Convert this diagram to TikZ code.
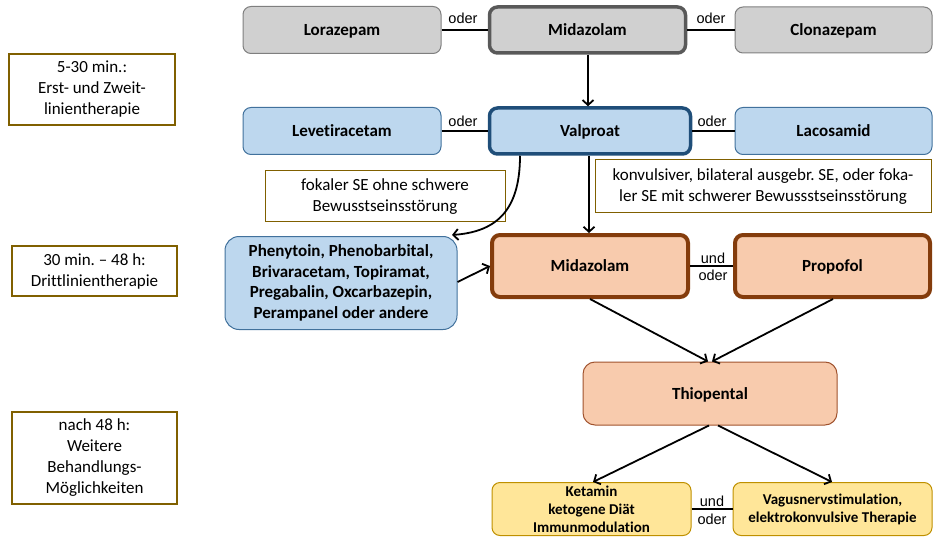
\documentclass[tikz,border=0pt]{standalone}
\usepackage{fontspec}
\setmainfont{Carlito}[Ligatures=NoCommon]
\newfontfamily\arialf{Liberation Sans}
\usetikzlibrary{arrows.meta}
\frenchspacing
\definecolor{grayfill}{HTML}{D0D0D0}
\definecolor{grayline}{HTML}{7F7F7F}
\definecolor{graydark}{HTML}{595959}
\definecolor{bluefill}{HTML}{BDD7EE}
\definecolor{blueline}{HTML}{41719C}
\definecolor{bluedark}{HTML}{1F4E79}
\definecolor{salfill}{HTML}{F8CBAD}
\definecolor{salline}{HTML}{A0522D}
\definecolor{saldark}{HTML}{843C0C}
\definecolor{yelfill}{HTML}{FFE699}
\definecolor{yelline}{HTML}{BF9000}
\definecolor{goldline}{HTML}{806000}
\tikzset{
  box/.style={rounded corners=8pt, align=center, inner sep=2pt, font=\fontsize{17}{20.5}\selectfont\bfseries},
  oneline/.style={text depth=0pt},
  graybox/.style={box, fill=grayfill, draw=grayline, line width=1pt},
  graybold/.style={box, fill=grayfill, draw=graydark, line width=3.5pt},
  bluebox/.style={box, fill=bluefill, draw=blueline, line width=1pt},
  bluebold/.style={box, fill=bluefill, draw=bluedark, line width=3.5pt},
  salbold/.style={box, fill=salfill, draw=saldark, line width=4pt},
  salbox/.style={box, fill=salfill, draw=salline, line width=1pt, rounded corners=12pt},
  yelbox/.style={box, fill=yelfill, draw=yelline, line width=1pt, font=\fontsize{15}{18}\selectfont\bfseries},
  timebox/.style={draw=goldline, fill=white, line width=2.5pt, align=center, inner sep=2pt, font=\fontsize{17}{21}\selectfont},
  condbox/.style={draw=goldline, fill=white, line width=1pt, align=center, inner sep=2pt, font=\fontsize{17}{21}\selectfont},
  lbl/.style={font=\arialf\fontsize{14.5}{17}\selectfont, inner sep=0pt},
  conn/.style={line width=1.8pt, black},
  arr/.style={conn, -{Straight Barb[length=5pt,width=11pt,line width=1.8pt]}},
}
\begin{document}
\begin{tikzpicture}[x=1pt,y=-1pt]
\useasboundingbox (0,0) rectangle (933,537);
% time boxes
\node[timebox, minimum width=166pt, minimum height=71pt] (l1) at (92,89.5) {5-30 min.:\\Erst- und Zweit-\\linientherapie};
\node[timebox, minimum width=165pt, minimum height=50pt] (l2) at (94.5,271) {30 min. – 48 h:\\Drittlinientherapie};
\node[timebox, minimum width=165pt, minimum height=92pt] (l3) at (94.5,458) {nach 48 h:\\Weitere\\Behandlungs-\\Möglichkeiten};
% row 1
\node[graybox, oneline, minimum width=198pt, minimum height=47pt] (loraz) at (342,30) {Lorazepam};
\node[graybold, oneline, minimum width=196pt, minimum height=46pt] (mida1) at (587.5,30) {Midazolam};
\node[graybox, oneline, minimum width=197pt, minimum height=46pt] (clona) at (833.5,30) {Clonazepam};
% row 2
\node[bluebox, oneline, minimum width=198pt, minimum height=47pt] (levet) at (342,131) {Levetiracetam};
\node[bluebold, oneline, minimum width=201pt, minimum height=46pt] (valp) at (590,131) {Valproat};
\node[bluebox, oneline, minimum width=197pt, minimum height=47pt] (laco) at (833.5,131) {Lacosamid};
% conditions
\node[condbox, minimum width=240pt, minimum height=51pt] (fok) at (385,196.5) {fokaler SE ohne schwere\\Bewusstseinsstörung};
\node[condbox, minimum width=336pt, minimum height=53pt] (konv) at (763,186.5) {konvulsiver, bilateral ausgebr. SE, oder foka-\\ler SE mit schwerer Bewussstseinsstörung};
% row 3
\node[bluebox, rounded corners=14pt, minimum width=232pt, minimum height=93pt] (phen) at (341,283) {Phenytoin, Phenobarbital,\\Brivaracetam, Topiramat,\\Pregabalin, Oxcarbazepin,\\Perampanel oder andere};
\node[salbold, oneline, minimum width=196pt, minimum height=62pt] (mida2) at (590,266) {Midazolam};
\node[salbold, oneline, minimum width=195pt, minimum height=62pt] (prop) at (832.5,266) {Propofol};
% row 4
\node[salbox, oneline, minimum width=254pt, minimum height=63pt] (thio) at (710,393.5) {Thiopental};
% row 5
\node[yelbox, minimum width=199pt, minimum height=53pt] (keta) at (591.5,509) {Ketamin\\ketogene Diät\\Immunmodulation};
\node[yelbox, minimum width=199pt, minimum height=53pt] (vagus) at (832.5,509) {Vagusnervstimulation,\\elektrokonvulsive Therapie};
% connectors with labels
\draw[conn] (loraz.east) -- (mida1.west);
\node[lbl] (o1) at (463,18) {oder};
\draw[conn] (mida1.east) -- (clona.west);
\node[lbl] (o2) at (711,18) {oder};
\draw[conn] (levet.east) -- (valp.west);
\node[lbl] (o3) at (463,121) {oder};
\draw[conn] (valp.east) -- (laco.west);
\node[lbl] (o4) at (712,121) {oder};
\draw[conn] (mida2.east) -- (prop.west);
\node[lbl] (u1) at (713,258) {und};
\node[lbl] (o5) at (713,275) {oder};
\draw[conn] (keta.east) -- (vagus.west);
\node[lbl] (u2) at (712,501) {und};
\node[lbl] (o6) at (712,519) {oder};
% arrows
\draw[arr] (mida1.south -| 588,0) -- (valp.north -| 588,0);
\draw[arr] (valp.south -| 589,0) -- (mida2.north -| 589,0);
\draw[arr] (valp.south -| 520,0) .. controls (520,215) and (492,232) .. (452,235);
\draw[arr] (phen.east |- 0,282) -- (mida2.west |- 0,266);
\draw[arr] (mida2.south -| 590,0) -- (thio.north -| 708,0);
\draw[arr] (prop.south -| 833,0) -- (thio.north -| 712,0);
\draw[arr] (thio.south -| 709,0) -- (keta.north -| 593,0);
\draw[arr] (thio.south -| 718,0) -- (vagus.north -| 832,0);
\end{tikzpicture}
\end{document}
